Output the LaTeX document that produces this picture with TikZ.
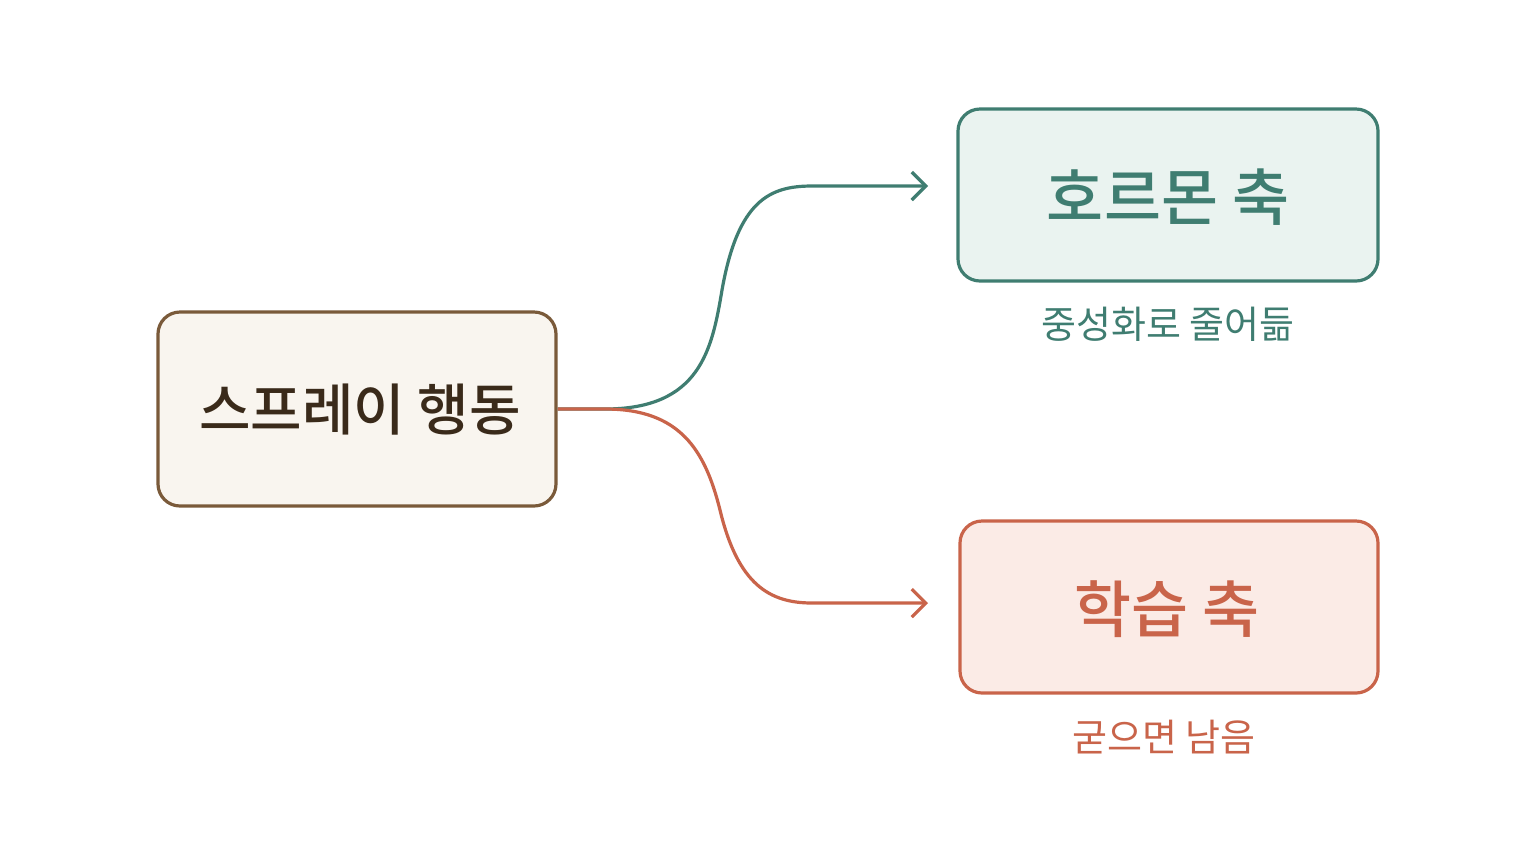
\documentclass[tikz,border=0pt]{standalone}
\usepackage{fontspec}
\newfontfamily\kr{Noto Sans CJK KR}
\newfontfamily\krm{Noto Sans CJK KR Medium}
\usetikzlibrary{arrows.meta}
\definecolor{brn}{HTML}{7A5A3A}\definecolor{brnf}{HTML}{F9F5EF}
\definecolor{tl}{HTML}{3F7D71}\definecolor{tlf}{HTML}{EAF3F0}
\definecolor{rd}{HTML}{C9644A}\definecolor{rdf}{HTML}{FBEBE6}
\definecolor{ink}{HTML}{3A2A1A}
\begin{document}
\begin{tikzpicture}[x=0.5pt,y=-0.5pt,
 box/.style={draw,line width=1.6pt,rounded corners=11pt,inner sep=0pt},
 con/.style={line width=1.6pt,-{Straight Barb[length=7pt,width=14pt,line width=1.6pt]}}]
\useasboundingbox[fill=white] (0,0) rectangle (1536,864);
\node[box,draw=brn,fill=brnf,minimum width=199pt,minimum height=97pt] (src) at (357,409) {};
\node[font=\krm\fontsize{28}{32}\selectfont,text=ink] (srct) at (360,410) {스프레이 행동};
\node[box,draw=tl,fill=tlf,minimum width=210pt,minimum height=86pt] (h) at (1168,195) {};
\node[font=\krm\fontsize{31}{36}\selectfont,text=tl] (ht) at (1168,197) {호르몬 축};
\node[font=\kr\fontsize{19}{22}\selectfont,text=tl] (hs) at (1168,324) {중성화로 줄어듦};
\node[box,draw=rd,fill=rdf,minimum width=209pt,minimum height=86pt] (l) at (1169,607) {};
\node[font=\krm\fontsize{31}{36}\selectfont,text=rd] (lt) at (1167,609) {학습 축};
\node[font=\kr\fontsize{19}{22}\selectfont,text=rd] (ls) at (1164,737) {굳으면 남음};
\coordinate (ha) at (928,186);
\coordinate (la) at (928,603);
\draw[con,tl] (src.east) -- (605,409) .. controls (700,409) and (712,350) .. (722,290) .. controls (738,200) and (770,186) .. (812,186) -- (ha);
\draw[con,rd] (src.east) -- (605,409) .. controls (680,409) and (705,450) .. (720,510) .. controls (738,585) and (770,603) .. (812,603) -- (la);
\end{tikzpicture}
\end{document}
